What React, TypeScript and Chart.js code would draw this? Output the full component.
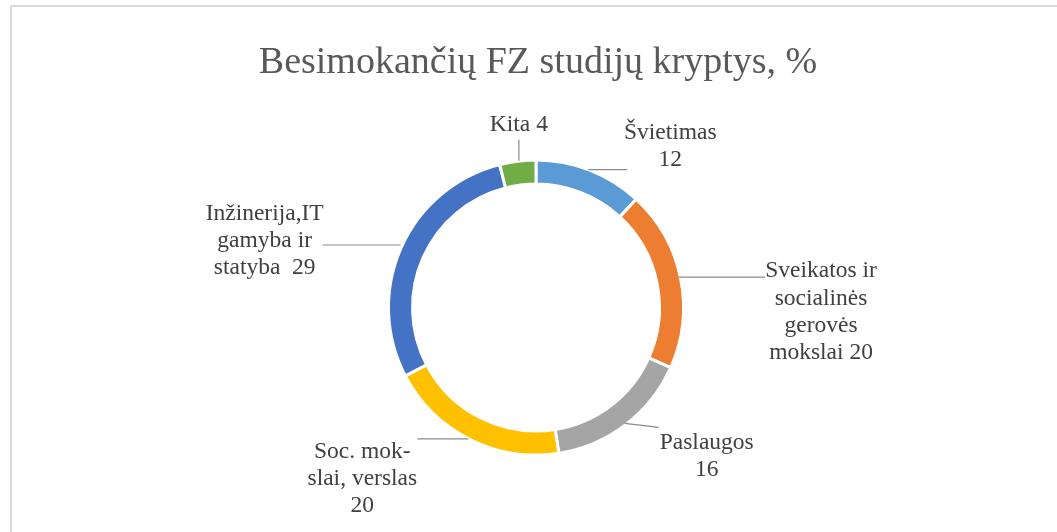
import React, { useEffect, useRef } from "react";
import { Chart, registerables } from "chart.js";

Chart.register(...registerables);

const TITLE = "Besimokančių FZ studijų kryptys, %";
const categories = [
  "Švietimas",
  "Sveikatos ir socialinės gerovės mokslai",
  "Paslaugos",
  "Soc. mokslai, verslas",
  "Inžinerija,IT gamyba ir statyba",
  "Kita",
];
const values = [12, 20, 16, 20, 29, 4];
const colors = ["#5B9BD5", "#ED7D31", "#A5A5A5", "#FFC000", "#4472C4", "#70AD47"];
const labelLines = [
  ["Švietimas", "12"],
  ["Sveikatos ir", "socialinės", "gerovės", "mokslai 20"],
  ["Paslaugos", "16"],
  ["Soc. mok-", "slai, verslas", "20"],
  ["Inžinerija,IT", "gamyba ir", "statyba  29"],
  ["Kita 4"],
];
// leader-line start shift, end and text-block centre, relative to each slice's outer mid-point
const lineStarts = [[-1, -2], [0, -1], [0, 0], [-2, 1], [-2, -3], [1, -2]];
const lineEnds = [[38, -2], [86, -1], [34, 4], [-53, 1], [-80, -3], [1, -23]];
const textCenters = [[81, -25], [142, 34], [82, 33], [-108, 41], [-138, -7], [1, -38]];

const labelPlugin = {
  id: "labelPlugin",
  afterDraw(chart: any) {
    const ctx = chart.ctx;
    ctx.save();
    ctx.fillStyle = "#595959";
    ctx.font = '38px "Liberation Serif", serif';
    ctx.textAlign = "center";
    ctx.textBaseline = "alphabetic";
    ctx.fillText(TITLE, chart.width / 2, 65.5);

    const meta = chart.getDatasetMeta(0);
    meta.data.forEach((arc: any, i: number) => {
      const p = arc.getProps(["x", "y", "startAngle", "endAngle", "outerRadius"], true);
      const mid = (p.startAngle + p.endAngle) / 2;
      const r = p.outerRadius - 1.5;
      const ax = p.x + Math.cos(mid) * r;
      const ay = p.y + Math.sin(mid) * r;
      ctx.strokeStyle = "#8c8c8c";
      ctx.lineWidth = 1.2;
      ctx.beginPath();
      ctx.moveTo(ax + lineStarts[i][0], ay + lineStarts[i][1]);
      ctx.lineTo(ax + lineEnds[i][0], ay + lineEnds[i][1]);
      ctx.stroke();

      const lines = labelLines[i];
      const lh = 27.3;
      const cx = ax + textCenters[i][0];
      const cy = ay + textCenters[i][1];
      ctx.fillStyle = "#404040";
      ctx.font = '23.5px "Liberation Serif", serif';
      ctx.textAlign = "center";
      ctx.textBaseline = "middle";
      lines.forEach((t, k) => {
        const y = cy + (k - (lines.length - 1) / 2) * lh;
        ctx.fillText(t, cx, y);
      });
    });
    ctx.restore();
  },
};

export default function App() {
  const ref = useRef<HTMLCanvasElement | null>(null);
  useEffect(() => {
    if (!ref.current) return;
    const chart = new Chart(ref.current, {
      type: "doughnut",
      data: {
        labels: categories,
        datasets: [
          {
            data: values,
            backgroundColor: colors,
            borderColor: "#ffffff",
            borderWidth: 3,
            hoverOffset: 0,
          },
        ],
      },
      options: {
        animation: false,
        responsive: false,
        radius: 147.5,
        cutout: "83.7%",
        layout: { padding: { top: 76, bottom: 0, left: 0, right: 4 } },
        plugins: {
          legend: { display: false },
          title: { display: false },
          tooltip: { enabled: false },
        },
        events: [],
      } as any,
      plugins: [labelPlugin],
    });
    return () => chart.destroy();
  }, []);

  return (
    <div
      style={{
        position: "fixed",
        left: 0,
        top: 0,
        width: 1057,
        height: 532,
        overflow: "hidden",
        background: "#ffffff",
      }}
    >
      <div
        style={{
          position: "absolute",
          left: 10,
          top: 5,
          width: 1056,
          height: 540,
          border: "2px solid #d9d9d9",
          boxSizing: "border-box",
        }}
      >
        <canvas
          ref={ref}
          width={1052}
          height={525}
          style={{ position: "absolute", left: 0, top: 0, width: 1052, height: 525 }}
        />
      </div>
    </div>
  );
}
